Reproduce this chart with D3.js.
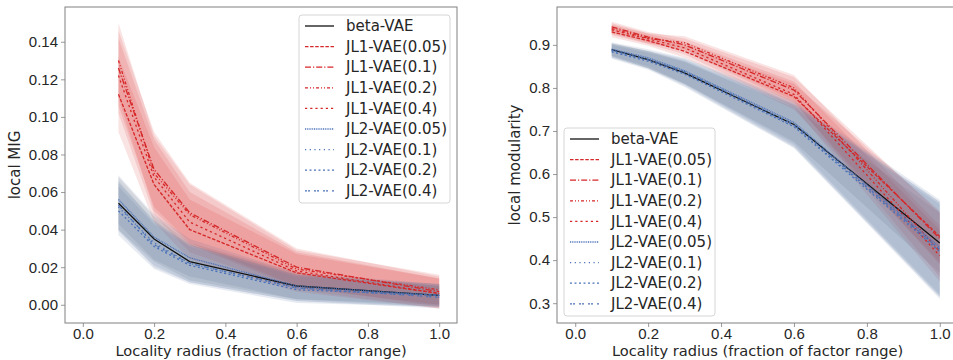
<!DOCTYPE html>
<html>
<head>
<meta charset="utf-8">
<script src="https://cdn.jsdelivr.net/npm/d3@7"></script>
<style>
  html, body { margin: 0; padding: 0; background: #fff; }
  svg { display: block; font-family: "DejaVu Sans", sans-serif; }
</style>
</head>
<body>
<svg id="chart" width="953" height="360"></svg>
<script>
// Locality radii at which both metrics were evaluated
const radii = [0.1, 0.2, 0.3, 0.6, 1.0];

const seriesNames = [
  "beta-VAE",
  "JL1-VAE(0.05)", "JL1-VAE(0.1)", "JL1-VAE(0.2)", "JL1-VAE(0.4)",
  "JL2-VAE(0.05)", "JL2-VAE(0.1)", "JL2-VAE(0.2)", "JL2-VAE(0.4)"
];

// local MIG: mean and spread per model
const migBeta     = [0.054, 0.035, 0.023, 0.010, 0.005];
const migJL1_005  = [0.112, 0.064, 0.040, 0.017, 0.006];
const migJL1_01   = [0.126, 0.072, 0.049, 0.020, 0.007];
const migJL1_02   = [0.130, 0.070, 0.048, 0.019, 0.008];
const migJL1_04   = [0.122, 0.068, 0.044, 0.018, 0.006];
const migJL2_005  = [0.056, 0.036, 0.025, 0.010, 0.005];
const migJL2_01   = [0.052, 0.033, 0.022, 0.009, 0.005];
const migJL2_02   = [0.050, 0.031, 0.021, 0.008, 0.005];
const migJL2_04   = [0.053, 0.032, 0.022, 0.009, 0.004];

const migStdBeta  = [0.014, 0.012, 0.010, 0.007, 0.005];
const migStdJL1   = [0.020, 0.020, 0.016, 0.010, 0.008];
const migStdJL2   = [0.013, 0.012, 0.010, 0.007, 0.006];

// local modularity: mean and spread per model
const modBeta     = [0.889, 0.866, 0.835, 0.715, 0.440];
const modJL1_005  = [0.930, 0.910, 0.885, 0.780, 0.455];
const modJL1_01   = [0.942, 0.918, 0.900, 0.795, 0.450];
const modJL1_02   = [0.938, 0.915, 0.905, 0.800, 0.420];
const modJL1_04   = [0.935, 0.914, 0.893, 0.785, 0.410];
const modJL2_005  = [0.890, 0.870, 0.840, 0.720, 0.430];
const modJL2_01   = [0.886, 0.865, 0.835, 0.712, 0.425];
const modJL2_02   = [0.884, 0.862, 0.832, 0.710, 0.420];
const modJL2_04   = [0.887, 0.866, 0.838, 0.715, 0.425];

const modStdBeta  = [0.015, 0.020, 0.025, 0.040, 0.070];
const modStdJL1   = [0.012, 0.012, 0.015, 0.030, 0.060];
const modStdJL2   = [0.016, 0.020, 0.030, 0.050, 0.110];

const xTicks = [0.0, 0.2, 0.4, 0.6, 0.8, 1.0];
const migTicks = [0.00, 0.02, 0.04, 0.06, 0.08, 0.10, 0.12, 0.14];
const modTicks = [0.3, 0.4, 0.5, 0.6, 0.7, 0.8, 0.9];

// Styling per model
const red = "#d62728", blue = "#4a72b8", black = "#111111";
const bandBlue = "#4a6a9e";
const styles = [
  { color: black, fill: "#8a8a8a", dash: null },
  { color: red,  fill: red,  dash: "3.5,1.6" },
  { color: red,  fill: red,  dash: "6,2,1.2,2" },
  { color: red,  fill: red,  dash: "3,2,1,2,1,2" },
  { color: red,  fill: red,  dash: "2.2,3" },
  { color: blue, fill: bandBlue, dash: "1,0.8" },
  { color: blue, fill: bandBlue, dash: "1.2,3.5" },
  { color: blue, fill: bandBlue, dash: "2,2.5" },
  { color: blue, fill: bandBlue, dash: "2,1,2,4" }
];

const svg = d3.select("#chart");
const spineColor = "#808080";
const textColor = "#262626";
const fontSize = "15px";

function drawPanel(opt) {
  const x = d3.scaleLinear().domain([-0.05, 1.05]).range([opt.left, opt.right]);
  const y = d3.scaleLinear().domain(opt.yDomain).range([323, 7]);
  const g = svg.append("g");

  const order = [0, 1, 2, 3, 4, 5, 6, 7, 8];
  const area = d3.area()
    .x(d => x(d.r))
    .y0(d => y(d.m - d.s))
    .y1(d => y(d.m + d.s));
  const line = d3.line().x(d => x(d.r)).y(d => y(d.m));

  const rows = opt.means.map((m, i) =>
    radii.map((r, j) => ({ r, m: m[j], s: opt.stds[i][j] })));

  order.forEach(i => {
    g.append("path").attr("d", area(rows[i]))
      .attr("fill", styles[i].fill)
      .attr("fill-opacity", i === 0 ? 0.2 : 0.13)
      .attr("stroke", "none");
  });
  order.forEach(i => {
    g.append("path").attr("d", line(rows[i]))
      .attr("fill", "none")
      .attr("stroke", styles[i].color)
      .attr("stroke-width", 1.3)
      .attr("stroke-dasharray", styles[i].dash);
  });

  // Axes
  const xAxis = d3.axisBottom(x).tickValues(xTicks).tickFormat(d3.format(".1f")).tickSize(4).tickPadding(1);
  const yAxis = d3.axisLeft(y).tickValues(opt.yTicks).tickFormat(d3.format(opt.yFmt)).tickSize(4).tickPadding(3);
  const gx = g.append("g").attr("transform", "translate(0,323)").call(xAxis);
  const gy = g.append("g").attr("transform", `translate(${opt.left},0)`).call(yAxis);
  [gx, gy].forEach(a => {
    a.select(".domain").remove();
    a.selectAll(".tick line").attr("stroke", spineColor).attr("stroke-width", 0.8);
    a.selectAll(".tick text").attr("fill", textColor).style("font-size", fontSize);
  });

  g.append("rect")
    .attr("x", opt.left).attr("y", 7)
    .attr("width", opt.right - opt.left).attr("height", 316)
    .attr("fill", "none").attr("stroke", spineColor).attr("stroke-width", 1);

  g.append("text")
    .attr("x", x(0.5)).attr("y", 356)
    .attr("text-anchor", "middle")
    .attr("fill", textColor).style("font-size", "14.6px")
    .text("Locality radius (fraction of factor range)");

  g.append("text")
    .attr("transform", `translate(${opt.ylabelX},165) rotate(-90)`)
    .attr("text-anchor", "middle")
    .attr("fill", textColor).style("font-size", fontSize)
    .text(opt.ylabel);

  // Legend
  const lg = g.append("g").attr("transform", `translate(${opt.legX},${opt.legY})`);
  lg.append("rect")
    .attr("width", 151).attr("height", 188).attr("rx", 3)
    .attr("fill", "#fff").attr("fill-opacity", 0.85)
    .attr("stroke", "#d6d6d6").attr("stroke-width", 1);
  seriesNames.forEach((name, i) => {
    const yy = 11 + i * 20.6;
    lg.append("line")
      .attr("x1", 6).attr("x2", 35).attr("y1", yy).attr("y2", yy)
      .attr("stroke", styles[i].color).attr("stroke-width", 1.3)
      .attr("stroke-dasharray", styles[i].dash);
    lg.append("text")
      .attr("x", 47).attr("y", yy).attr("dy", "0.35em")
      .attr("fill", textColor).style("font-size", fontSize)
      .text(name);
  });
}

drawPanel({
  left: 65, right: 457,
  yDomain: [-0.0097, 0.1585],
  yTicks: migTicks, yFmt: ".2f",
  ylabel: "local MIG", ylabelX: 20,
  means: [migBeta, migJL1_005, migJL1_01, migJL1_02, migJL1_04, migJL2_005, migJL2_01, migJL2_02, migJL2_04],
  stds: [migStdBeta, migStdJL1, migStdJL1, migStdJL1, migStdJL1, migStdJL2, migStdJL2, migStdJL2, migStdJL2],
  legX: 299, legY: 15
});

drawPanel({
  left: 557, right: 958,
  yDomain: [0.254, 0.988],
  yTicks: modTicks, yFmt: ".1f",
  ylabel: "local modularity", ylabelX: 520,
  means: [modBeta, modJL1_005, modJL1_01, modJL1_02, modJL1_04, modJL2_005, modJL2_01, modJL2_02, modJL2_04],
  stds: [modStdBeta, modStdJL1, modStdJL1, modStdJL1, modStdJL1, modStdJL2, modStdJL2, modStdJL2, modStdJL2],
  legX: 564, legY: 128
});
</script>
</body>
</html>
